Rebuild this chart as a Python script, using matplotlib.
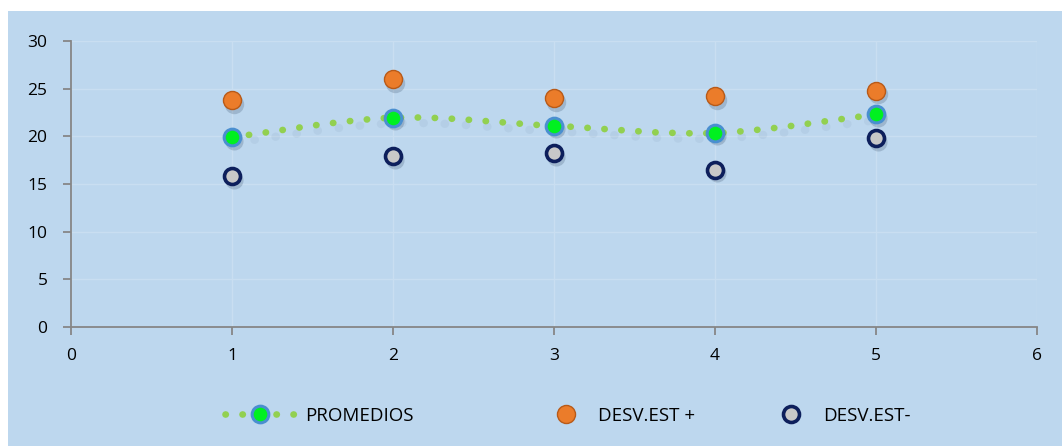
import matplotlib
matplotlib.use("Agg")
import matplotlib.pyplot as plt
from matplotlib.path import Path
from matplotlib.patches import PathPatch, Rectangle
from matplotlib.lines import Line2D
from matplotlib.transforms import ScaledTranslation

plt.rcParams['font.family'] = ['Open Sans', 'DejaVu Sans']

x_vals = [1, 2, 3, 4, 5]
promedios = [19.9, 21.95, 21.1, 20.35, 22.3]
desv_plus = [23.8, 26.0, 24.0, 24.2, 24.8]
desv_minus = [15.8, 17.9, 18.2, 16.5, 19.8]
labels = ["PROMEDIOS", "DESV.EST +", "DESV.EST-"]
x_ticks = [0, 1, 2, 3, 4, 5, 6]
y_ticks = [0, 5, 10, 15, 20, 25, 30]

W, H = 1062, 446
fig = plt.figure(figsize=(W / 100, H / 100), dpi=100)
fig.patch.set_facecolor("white")
bg = "#BDD7EE"
fig.patches.append(Rectangle((8 / W, 0), 1 - 8 / W, 1 - 11 / H, transform=fig.transFigure,
                             facecolor=bg, edgecolor="none", zorder=-5))

ax = fig.add_axes([71 / W, (H - 327) / H, (1037 - 71) / W, (327 - 41) / H])
ax.set_zorder(2)
ax.set_facecolor(bg)
ax.set_xlim(0, 6)
ax.set_ylim(0, 30)
ax.set_xticks(x_ticks)
ax.set_yticks(y_ticks)
ax.grid(True, color="#C9DEF1", linewidth=1.0, zorder=0)
ax.set_axisbelow(True)
for s in ["top", "right"]:
    ax.spines[s].set_visible(False)
for s in ["left", "bottom"]:
    ax.spines[s].set_color("#868686")
    ax.spines[s].set_linewidth(1.3)
ax.tick_params(axis="both", direction="out", length=6, color="#868686", width=1.3,
               labelsize=12.5, labelcolor="black")
ax.tick_params(axis="y", pad=11)
ax.tick_params(axis="x", pad=9)

# smooth (Catmull-Rom -> cubic Bezier) line through averages
pts = list(zip(x_vals, promedios))
verts = [pts[0]]
codes = [Path.MOVETO]
n = len(pts)
for i in range(n - 1):
    p0 = pts[i - 1] if i > 0 else pts[i]
    p1 = pts[i]
    p2 = pts[i + 1]
    p3 = pts[i + 2] if i + 2 < n else pts[i + 1]
    c1 = (p1[0] + (p2[0] - p0[0]) / 6, p1[1] + (p2[1] - p0[1]) / 6)
    c2 = (p2[0] - (p3[0] - p1[0]) / 6, p2[1] - (p3[1] - p1[1]) / 6)
    verts += [c1, c2, p2]
    codes += [Path.CURVE4] * 3
line_color = "#92D050"
dots = (0, (0.05, 2.5))
smooth_path = Path(verts, codes)
shift = ax.transData + ScaledTranslation(1.0 / 72, -4 / 72, fig.dpi_scale_trans)
ax.add_patch(PathPatch(smooth_path, facecolor="none", edgecolor="#2E4A66", alpha=0.06,
                       linewidth=6, linestyle=dots, capstyle="round", zorder=1.5,
                       transform=shift))
ax.add_patch(PathPatch(smooth_path, facecolor="none", edgecolor=line_color,
                       linewidth=4.8, linestyle=dots, capstyle="round", zorder=2))

mshift = ax.transData + ScaledTranslation(1.5 / 72, -2.5 / 72, fig.dpi_scale_trans)
for series, ms in [(promedios, 13), (desv_plus, 14), (desv_minus, 13)]:
    ax.plot(x_vals, series, linestyle="none", marker="o", markersize=ms,
            markerfacecolor="#1F3550", markeredgecolor="none", alpha=0.2,
            zorder=3, transform=mshift)

ax.plot(x_vals, promedios, linestyle="none", marker="o", markersize=12,
        markerfacecolor="#00F020", markeredgecolor="#4A8FD0", markeredgewidth=2.2, zorder=4)
ax.plot(x_vals, desv_plus, linestyle="none", marker="o", markersize=13,
        markerfacecolor="#EB7C2A", markeredgecolor="#B85A18", markeredgewidth=1.0, zorder=4)
ax.plot(x_vals, desv_minus, linestyle="none", marker="o", markersize=11.5,
        markerfacecolor="#C8C8C8", markeredgecolor="#0D1F5C", markeredgewidth=2.6, zorder=4)

h1 = Line2D([], [], color=line_color, linewidth=4.8, linestyle=dots,
            dash_capstyle="round", marker="o", markersize=12, markerfacecolor="#00F020",
            markeredgecolor="#4A8FD0", markeredgewidth=2.2)
h2 = Line2D([], [], linestyle="none", marker="o", markersize=13,
            markerfacecolor="#EB7C2A", markeredgecolor="#B85A18", markeredgewidth=1.0)
h3 = Line2D([], [], linestyle="none", marker="o", markersize=11.5,
            markerfacecolor="#C8C8C8", markeredgecolor="#0D1F5C", markeredgewidth=2.6)

ly = (H - 416) / H
fs = 13.5
common = dict(loc="center left", frameon=False, fontsize=fs, borderpad=0,
              borderaxespad=0, markerscale=1.0)
fig.legend([h1], [labels[0]], bbox_to_anchor=(225 / W, ly), handlelength=70 / (fs * 100 / 72),
           handletextpad=0.55, **common)
fig.legend([h2], [labels[1]], bbox_to_anchor=(538 / W, ly), handlelength=56 / (fs * 100 / 72),
           handletextpad=0.2, **common)
fig.legend([h3], [labels[2]], bbox_to_anchor=(763 / W, ly), handlelength=56 / (fs * 100 / 72),
           handletextpad=0.2, **common)

fig.savefig("out.png", dpi=100, facecolor=fig.get_facecolor())
